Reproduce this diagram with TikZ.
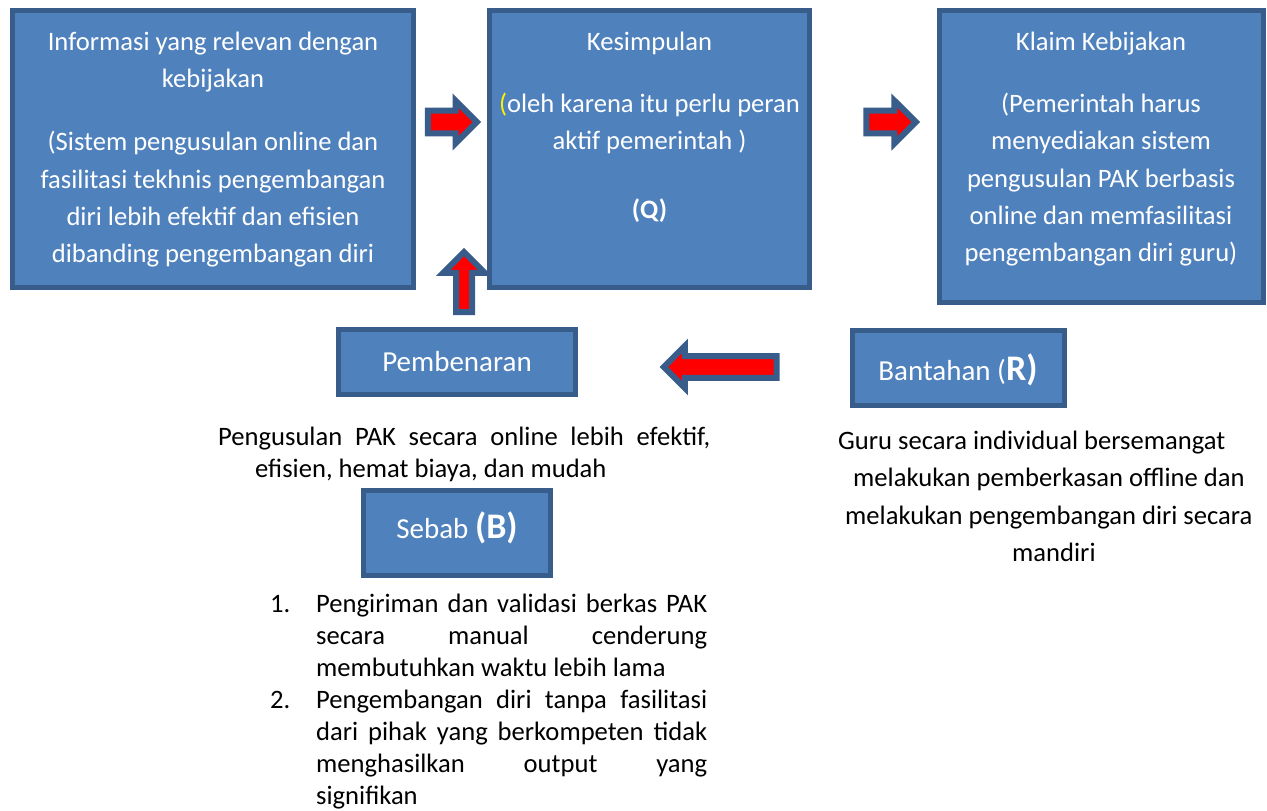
\documentclass[tikz,border=0pt]{standalone}
\usepackage{fontspec}
\setmainfont{Carlito}
\usetikzlibrary{shapes.arrows}
\definecolor{boxfill}{HTML}{4F81BD}
\definecolor{boxline}{HTML}{385D8A}
\begin{document}
\begin{tikzpicture}[x=1pt,y=-1pt,
  box/.style={draw=boxline, fill=boxfill, line width=5pt, inner sep=0pt},
  boxtext/.style={text=white, align=center, inner sep=0pt, font=\fontsize{26.6}{37.4}\selectfont},
  bigtext/.style={text=white, inner sep=0pt, font=\fontsize{29}{34}\selectfont},
  barrow/.style={single arrow, draw=boxline, fill=red, line width=6pt, inner xsep=0pt, inner ysep=8.3pt,
    single arrow head extend=10pt, single arrow tip angle=90, minimum width=37pt},
  plain/.style={text=black, inner sep=0pt, font=\fontsize{26.6}{32.2}\selectfont}]
\useasboundingbox (0,0) rectangle (1267,811);
% boxes
\node[box, minimum width=401pt, minimum height=277pt] (info) at (213,149) {};
\node[box, minimum width=320pt, minimum height=277pt] (kes) at (649.5,149) {};
\node[box, minimum width=324pt, minimum height=292pt] (klaim) at (1101.5,156.5) {};
\node[box, minimum width=237pt, minimum height=65pt] (pemb) at (457,362) {};
\node[box, minimum width=212pt, minimum height=75pt] (bant) at (958.5,368) {};
\node[box, minimum width=187pt, minimum height=85pt] (sebab) at (457,533) {};
% box texts
\node[boxtext, anchor=north] (infotext) at (213,28) {\rule{0pt}{22pt}Informasi yang relevan dengan\\kebijakan\\[25.6pt](Sistem pengusulan online dan\\fasilitasi tekhnis pengembangan\\diri lebih efektif dan efisien\\dibanding pengembangan diri};
\node[boxtext, anchor=north] (kestext) at (649.5,28) {\rule{0pt}{22pt}Kesimpulan\\[24.6pt]{\color{yellow}(}oleh karena itu perlu peran\\aktif pemerintah )\\[31.6pt]\textbf{(Q)}};
\node[boxtext, anchor=north] (klaimtext) at (1101,28) {\rule{0pt}{22pt}Klaim Kebijakan\\[24.6pt](Pemerintah harus\\menyediakan sistem\\pengusulan PAK berbasis\\online dan memfasilitasi\\pengembangan diri guru)};
\node[bigtext, anchor=base] (pembtext) at (457,371) {Pembenaran};
\node[bigtext, anchor=base] (banttext) at (958,380) {Bantahan (\textbf{\fontsize{36}{40}\selectfont R)}};
\node[bigtext, anchor=base] (sebabtext) at (457,538) {Sebab \textbf{\fontsize{36}{40}\selectfont (B)}};
% block arrows
\node[barrow, minimum height=49pt] (a1) at (446.8,122) {};
\node[barrow, minimum height=49.4pt] (a2) at (885.4,122) {};
\node[barrow, inner ysep=5pt, minimum width=35.7pt, single arrow head extend=12.85pt,
  minimum height=60pt, rotate=90] (a3) at (464,286) {};
\node[barrow, inner ysep=7.8pt, minimum width=36.3pt, single arrow head extend=10.35pt,
  minimum height=112.8pt, rotate=180] (a4) at (725.6,367) {};
% plain texts
\node[plain, anchor=north west, align=left] (pengtext) at (218,423) {\rule{0pt}{22pt}\makebox[492pt][s]{Pengusulan PAK secara online lebih efektif,}\\\hspace*{37pt}efisien, hemat biaya, dan mudah};
\node[plain, font=\fontsize{26.6}{37.4}\selectfont, anchor=north west, align=left] (guru) at (838,427) {\rule{0pt}{22pt}Guru secara individual bersemangat\\\hspace*{15pt}melakukan pemberkasan offline dan\\\hspace*{7pt}melakukan pengembangan diri secara\\\hspace*{174pt}mandiri};
\node[plain, anchor=base west] (n1) at (270,612) {1.};
\node[plain, anchor=base west] (n2) at (270,708) {2.};
\node[plain, anchor=north west, align=left] (item1) at (316,590) {\rule{0pt}{22pt}\makebox[391pt][s]{Pengiriman dan validasi berkas PAK}\\\makebox[391pt][s]{secara manual cenderung}\\membutuhkan waktu lebih lama};
\node[plain, anchor=north west, align=left] (item2) at (316,686) {\rule{0pt}{22pt}\makebox[391pt][s]{Pengembangan diri tanpa fasilitasi}\\\makebox[391pt][s]{dari pihak yang berkompeten tidak}\\\makebox[391pt][s]{menghasilkan output yang}\\signifikan};
\end{tikzpicture}
\end{document}
